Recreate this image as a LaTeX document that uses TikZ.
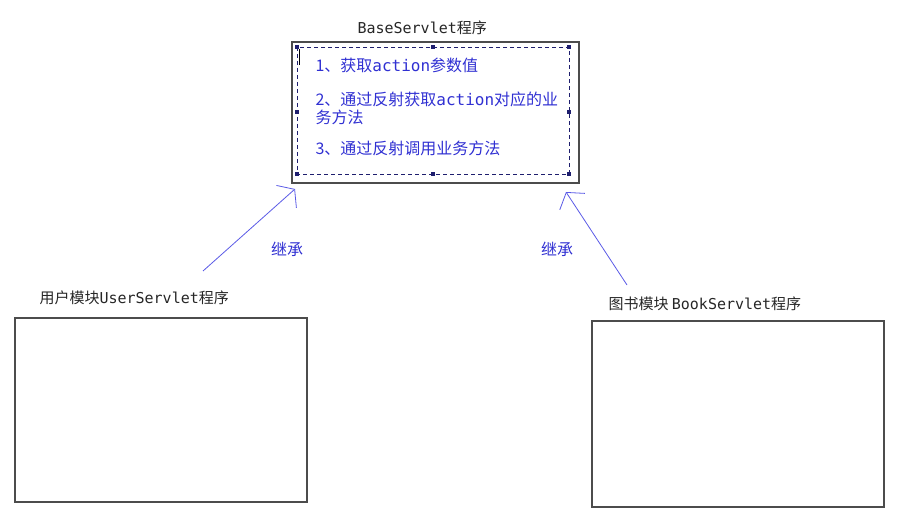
\documentclass[tikz,border=0pt]{standalone}
\usepackage{fontspec}
\usepackage{tikz}
\usetikzlibrary{arrows.meta}
\newfontfamily\cjk{Noto Sans CJK SC}
\newfontfamily\lat{DejaVu Sans Mono}
\definecolor{txtblue}{RGB}{48,48,210}
\definecolor{arrblue}{RGB}{90,90,230}
\definecolor{selnavy}{RGB}{30,30,110}
\tikzset{
  pbox/.style={draw=black!70, line width=1.2pt, inner sep=0pt},
  ptitle/.style={anchor=west, font=\cjk\fontsize{15}{18}\selectfont, text=black!85},
  ptext/.style={anchor=west, font=\cjk\fontsize{16}{18}\selectfont, text=txtblue, align=left},
  inherit/.style={draw=arrblue, line width=0.8pt, -{Straight Barb[length=11pt,width=30pt]}},
  handle/.style={fill=selnavy, minimum size=3.5pt, inner sep=0pt}
}
\begin{document}
\begin{tikzpicture}[x=1pt, y=-1pt]
    \useasboundingbox (0,0) rectangle (900,532);

    % Define the corners of the base box
    \coordinate (S1) at (297,47);
    \coordinate (S2) at (569,174);

    % Draw the three program boxes
    \node[pbox, minimum width=287pt, minimum height=141pt] (base) at (435.5,112.5) {};
    \node[pbox, minimum width=292pt, minimum height=184pt] (user) at (161,410) {};
    \node[pbox, minimum width=292pt, minimum height=186pt] (book) at (738,414) {};

    % Label the boxes
    \node[ptitle] (basetitle) at (354,28) {{\lat BaseServlet}程序};
    \node[ptitle] (usertitle) at (36,298) {用户模块{\lat UserServlet}程序};
    \node[ptitle] (booktitle) at (605,304) {图书模块 {\lat BookServlet}程序};

    % Draw the dashed selection frame with its handles
    \draw[selnavy, line width=0.7pt, dash pattern=on 4pt off 3pt] (S1) rectangle (S2);
    \foreach \hx/\hy in {297/47, 433/47, 569/47, 297/112, 569/112, 297/174, 433/174, 569/174}
      \node[handle] at (\hx,\hy) {};
    \draw[black, line width=0.6pt] (299,49) -- (299,65);

    % Add the steps of the base servlet
    \node[ptext] (step1) at (312,65) {1、获取{\lat action}参数值};
    \node[ptext] (step2) at (312,108) {2、通过反射获取{\lat action}对应的业\\务方法};
    \node[ptext] (step3) at (312,148) {3、通过反射调用业务方法};

    % Draw the inheritance arrows
    \coordinate (L0) at (203,271);
    \coordinate (L1) at (295,189);
    \coordinate (R0) at (627,285);
    \coordinate (R1) at (566,192);
    \draw[inherit] (L0) -- (L1);
    \draw[inherit] (R0) -- (R1);
    \node[ptext, anchor=center] (inhl) at (287,249) {继承};
    \node[ptext, anchor=center] (inhr) at (557,249) {继承};

  \end{tikzpicture}
\end{document}
